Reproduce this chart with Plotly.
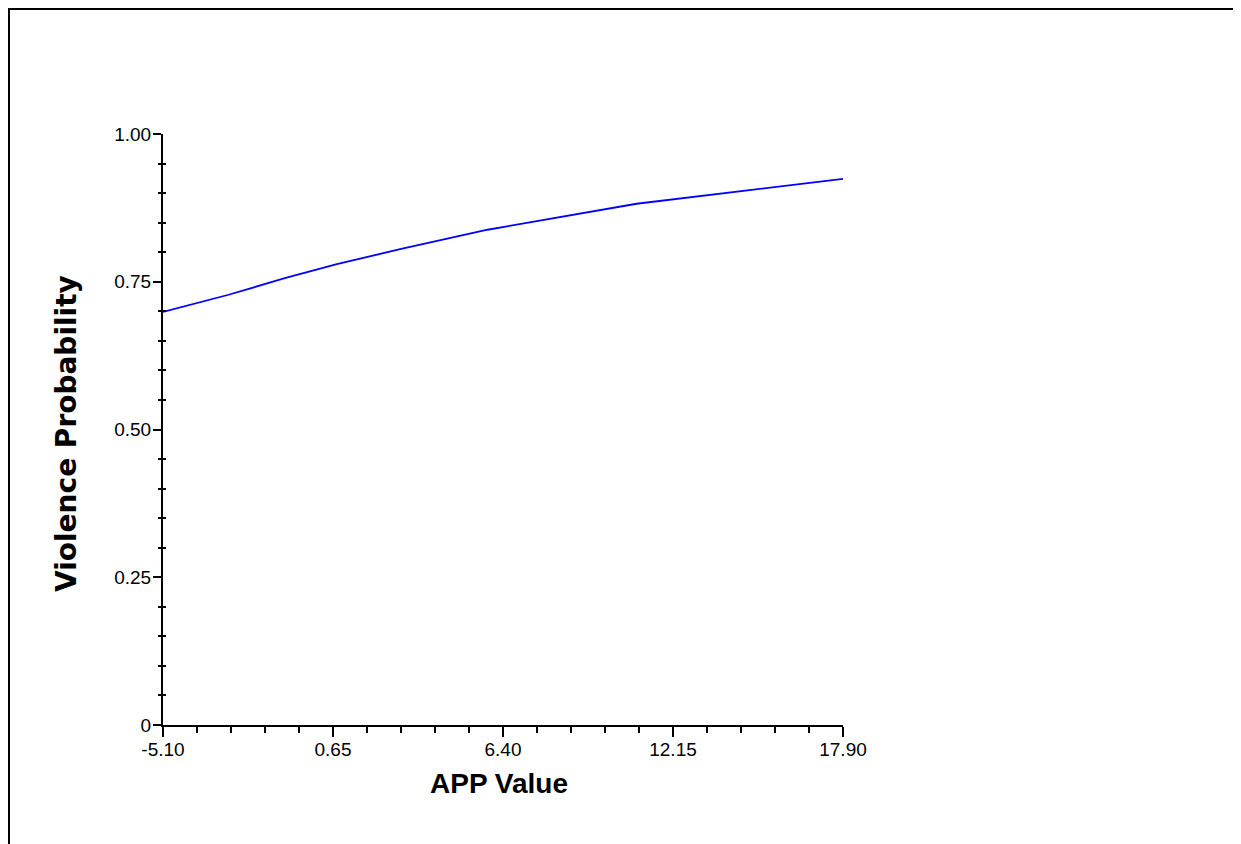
import plotly.graph_objects as go

# Data
app_value = [-5.10, -2.88, -0.98, 0.78, 2.92, 5.88, 10.92, 17.90]
violence_prob = [0.699, 0.728, 0.756, 0.780, 0.805, 0.838, 0.882, 0.924]

x_tickvals = [-5.10, 0.65, 6.40, 12.15, 17.90]
x_ticktext = ["-5.10", "0.65", "6.40", "12.15", "17.90"]
y_tickvals = [0, 0.25, 0.50, 0.75, 1.00]
y_ticktext = ["0", "0.25", "0.50", "0.75", "1.00"]

y_minor = [round(i * 0.05, 2) for i in range(21) if i % 5 != 0]

FONT = "Liberation Sans, Arial, sans-serif"

# page body has an 8px margin: figure origin sits at (8, 8) on the page
OFF = 8
PL, PR, PT, PB = 163, 843, 134, 725  # plot area in page pixels


def px_x(px):
    return (px - PL) / (PR - PL)


def px_y(py):
    return (PB - py) / (PB - PT)


fig = go.Figure()
fig.add_trace(go.Scatter(x=app_value, y=violence_prob, mode="lines",
                         line=dict(color="#0000FF", width=1.8),
                         showlegend=False, hoverinfo="skip"))
fig.add_trace(go.Scatter(x=[], y=[], yaxis="y2", showlegend=False, hoverinfo="skip"))

fig.update_layout(
    width=1241 - OFF, height=844 - OFF,
    margin=dict(l=PL - OFF, r=1241 - PR, t=PT - OFF, b=844 - PB),
    paper_bgcolor="white", plot_bgcolor="white",
    font=dict(family=FONT, size=19, color="black"),
    showlegend=False,
    xaxis=dict(
        range=[-5.10, 17.90], tickmode="array", tickvals=x_tickvals, ticktext=x_ticktext,
        showgrid=False, zeroline=False, showline=True, linecolor="black", linewidth=2,
        ticks="outside", ticklen=10, tickwidth=2, tickcolor="black",
        tickfont=dict(family=FONT, size=19, color="black"),
        ticklabelstandoff=-4,
        minor=dict(tickmode="linear", tick0=-5.10, dtick=1.15, ticks="outside",
                   ticklen=6, tickwidth=2, tickcolor="black", showgrid=False),
        fixedrange=True,
    ),
    yaxis=dict(
        range=[0, 1], tickmode="array", tickvals=y_tickvals, ticktext=y_ticktext,
        showgrid=False, zeroline=False, showline=True, linecolor="black", linewidth=2,
        ticks="outside", ticklen=8, tickwidth=2, tickcolor="black",
        tickfont=dict(family=FONT, size=19, color="black"),
        ticklabelstandoff=-2,
        minor=dict(tickmode="linear", tick0=0, dtick=0.05, ticks="outside",
                   ticklen=3, tickwidth=2, tickcolor="black", showgrid=False),
        fixedrange=True,
    ),
    yaxis2=dict(
        overlaying="y", anchor="x", side="left", range=[0, 1],
        tickmode="array", tickvals=y_minor, showticklabels=False,
        ticks="inside", ticklen=3, tickwidth=2, tickcolor="black",
        showgrid=False, zeroline=False, showline=False, fixedrange=True,
    ),
    annotations=[
        dict(text="<b>APP Value</b>", xref="paper", yref="paper",
             x=px_x(499), y=px_y(783), xanchor="center", yanchor="middle",
             showarrow=False, font=dict(family=FONT, size=28, color="black")),
        dict(text="<b>Violence Probability</b>", xref="paper", yref="paper",
             x=px_x(66), y=px_y(434), xanchor="center", yanchor="middle",
             textangle=-90, showarrow=False,
             font=dict(family="DejaVu Sans, sans-serif", size=28, color="black")),
    ],
    shapes=[
        dict(type="rect", xref="paper", yref="paper",
             x0=px_x(9), x1=px_x(1300), y0=px_y(900), y1=px_y(9),
             line=dict(color="black", width=2), fillcolor="rgba(0,0,0,0)", layer="below"),
    ],
)

fig.write_html("out.html")
